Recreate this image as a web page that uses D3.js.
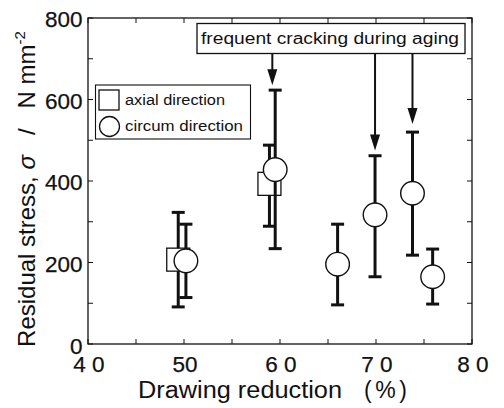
<!DOCTYPE html>
<html>
<head>
<meta charset="utf-8">
<script src="https://cdn.jsdelivr.net/npm/d3@7"></script>
<style>
  html, body { margin: 0; padding: 0; background: #fff; }
  svg { display: block; font-family: "Liberation Sans", Arial, sans-serif; }
</style>
</head>
<body>
<div id="viz"></div>
<script>
// data
const axialX = [49.4, 58.9];
const axialY = [207, 393];
const axialLo = [91, 289];
const axialHi = [323, 488];

const circX = [50.2, 59.5, 66.0, 69.9, 73.8, 75.9];
const circY = [204, 428, 196, 317, 370, 165];
const circLo = [114, 234, 96, 165, 218, 98];
const circHi = [294, 623, 294, 462, 520, 233];

const xTicks = [40, 50, 60, 70, 80];
const xTickLabels = ["4 0", "50", "6 0", "7 0", "8 0"];
const yTicks = [0, 200, 400, 600, 800];

const crackX = [59.2, 69.9, 73.8];       // arrows point at these series
const crackTipY = [635, 475, 540];

const W = 504, H = 408;
const m = { left: 88, right: 32, top: 18, bottom: 64 };

const svg = d3.select("#viz").append("svg").attr("width", W).attr("height", H);

const x = d3.scaleLinear().domain([40, 80]).range([m.left, W - m.right]);
const y = d3.scaleLinear().domain([0, 800]).range([H - m.bottom, m.top]);

const ink = "#111";

// frame
svg.append("rect")
  .attr("x", x(40)).attr("y", y(800))
  .attr("width", x(80) - x(40)).attr("height", y(0) - y(800))
  .attr("fill", "none").attr("stroke", ink).attr("stroke-width", 1.3);

// inward ticks on all four sides
const tk = 5;
const xMinor = d3.range(40, 80.1, 5);
const yMinor = d3.range(0, 800.1, 100);
const ticks = svg.append("g").attr("stroke", ink).attr("stroke-width", 1);
xMinor.forEach(v => {
  ticks.append("line").attr("x1", x(v)).attr("x2", x(v)).attr("y1", y(0)).attr("y2", y(0) - tk);
  ticks.append("line").attr("x1", x(v)).attr("x2", x(v)).attr("y1", y(800)).attr("y2", y(800) + tk);
});
yMinor.forEach(v => {
  ticks.append("line").attr("x1", x(40)).attr("x2", x(40) + tk).attr("y1", y(v)).attr("y2", y(v));
  ticks.append("line").attr("x1", x(80)).attr("x2", x(80) - tk).attr("y1", y(v)).attr("y2", y(v));
});

// tick labels
svg.append("g").selectAll("text").data(yTicks).join("text")
  .attr("x", x(40) - 5.5).attr("y", d => y(d) + (d === 0 ? 10 : 9))
  .attr("text-anchor", "end").attr("font-size", 22.5).attr("fill", ink)
  .attr("stroke", ink).attr("stroke-width", 0.25)
  .text(d => d);

svg.append("g").selectAll("text").data(xTicks).join("text")
  .attr("x", d => x(d) + 1).attr("y", 372)
  .attr("text-anchor", "middle").attr("font-size", 22.5).attr("fill", ink)
  .attr("stroke", ink).attr("stroke-width", 0.25)
  .attr("xml:space", "preserve")
  .text((d, i) => xTickLabels[i]);

// axis titles
svg.append("text")
  .attr("x", 138).attr("y", 398)
  .attr("font-size", 23).attr("fill", ink)
  .attr("textLength", 204).attr("lengthAdjust", "spacingAndGlyphs")
  .text("Drawing reduction");
svg.append("text")
  .attr("x", 364).attr("y", 398)
  .attr("font-size", 23).attr("fill", ink)
  .attr("textLength", 43).attr("lengthAdjust", "spacing")
  .text("(%)");

const yt = svg.append("text")
  .attr("transform", `translate(35,189) rotate(-90)`)
  .attr("text-anchor", "middle").attr("font-size", 24).attr("fill", ink)
  .attr("xml:space", "preserve");
yt.append("tspan").text("Residual stress, ");
yt.append("tspan").attr("font-style", "italic").text("σ");
yt.append("tspan").text("   /   N mm");
yt.append("tspan").attr("font-size", 15).attr("dy", -10).text("-2");

// error bars
const capW = 11;
function errorBars(xs, lo, hi) {
  const g = svg.append("g").attr("stroke", ink).attr("stroke-width", 3).attr("fill", "none");
  xs.forEach((v, i) => {
    g.append("line").attr("x1", x(v)).attr("x2", x(v)).attr("y1", y(lo[i])).attr("y2", y(hi[i]));
    g.append("line").attr("x1", x(v) - capW / 2 - 1).attr("x2", x(v) + capW / 2 + 1).attr("y1", y(lo[i])).attr("y2", y(lo[i]));
    g.append("line").attr("x1", x(v) - capW / 2 - 1).attr("x2", x(v) + capW / 2 + 1).attr("y1", y(hi[i])).attr("y2", y(hi[i]));
  });
}

const sq = 23, rC = 11.8;
errorBars(axialX, axialLo, axialHi);
svg.append("g").selectAll("rect").data(axialX).join("rect")
  .attr("x", d => x(d) - sq / 2).attr("y", (d, i) => y(axialY[i]) - sq / 2)
  .attr("width", sq).attr("height", sq)
  .attr("fill", "#fff").attr("stroke", ink).attr("stroke-width", 1.3);

errorBars(circX, circLo, circHi);
svg.append("g").selectAll("circle").data(circX).join("circle")
  .attr("cx", d => x(d)).attr("cy", (d, i) => y(circY[i])).attr("r", rC)
  .attr("fill", "#fff").attr("stroke", ink).attr("stroke-width", 1.4);

// annotation box + arrows
const boxX = 197, boxY = 23.5, boxW = 268, boxH = 30;
svg.append("rect").attr("x", boxX).attr("y", boxY).attr("width", boxW).attr("height", boxH)
  .attr("fill", "#fff").attr("stroke", ink).attr("stroke-width", 1.3);
svg.append("text").attr("x", 201).attr("y", boxY + 20)
  .attr("font-size", 16).attr("fill", ink)
  .attr("textLength", 258).attr("lengthAdjust", "spacingAndGlyphs")
  .text("frequent cracking during aging");

const arrows = svg.append("g");
crackX.forEach((v, i) => {
  const ax = x(v), tip = y(crackTipY[i]);
  arrows.append("line").attr("x1", ax).attr("x2", ax).attr("y1", boxY + boxH).attr("y2", tip - 10)
    .attr("stroke", ink).attr("stroke-width", 2);
  arrows.append("path")
    .attr("d", `M${ax - 5},${tip - 16} L${ax + 5},${tip - 16} L${ax},${tip} Z`)
    .attr("fill", ink);
});

// legend
const lg = svg.append("g");
lg.append("rect").attr("x", 95.5).attr("y", 85).attr("width", 155).attr("height", 54)
  .attr("fill", "#fff").attr("stroke", ink).attr("stroke-width", 1.1);
lg.append("rect").attr("x", 99).attr("y", 90).attr("width", 20).attr("height", 20)
  .attr("fill", "#fff").attr("stroke", ink).attr("stroke-width", 1.3);
lg.append("circle").attr("cx", 109.5).attr("cy", 126.5).attr("r", 10)
  .attr("fill", "#fff").attr("stroke", ink).attr("stroke-width", 1.3);
lg.append("text").attr("x", 125).attr("y", 104.5).attr("font-size", 14).attr("fill", ink)
  .attr("textLength", 100).attr("lengthAdjust", "spacingAndGlyphs").text("axial direction");
lg.append("text").attr("x", 125).attr("y", 131).attr("font-size", 14).attr("fill", ink)
  .attr("textLength", 118).attr("lengthAdjust", "spacingAndGlyphs").text("circum direction");
</script>
</body>
</html>
